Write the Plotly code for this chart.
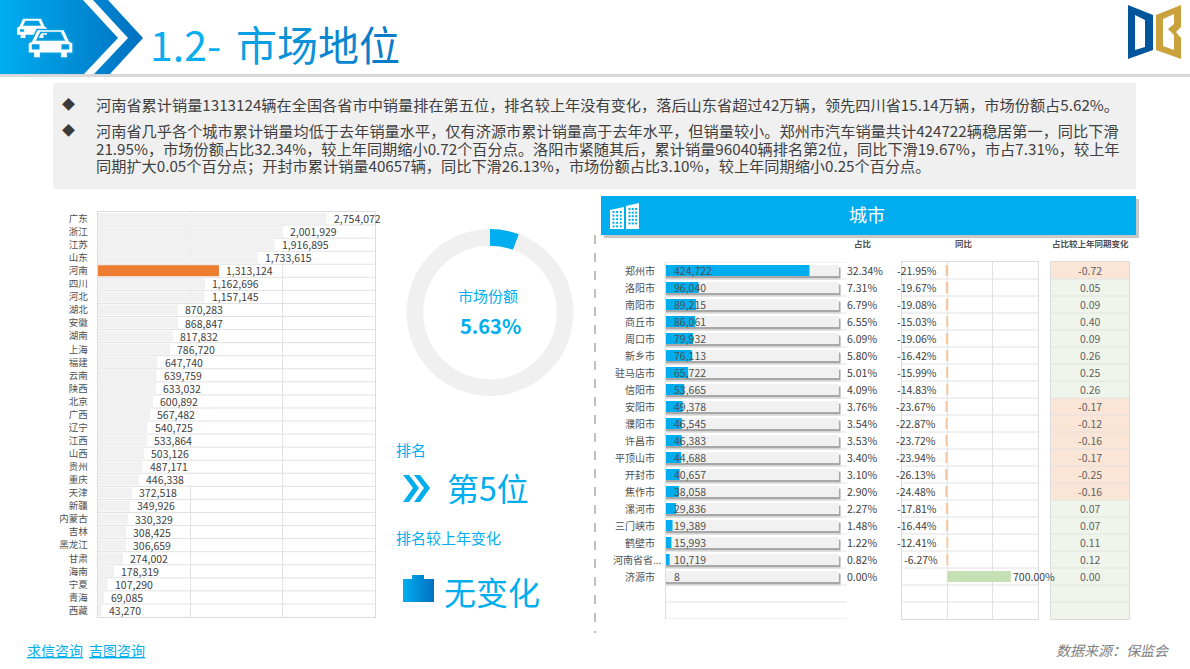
import plotly.graph_objects as go

# ---------- data ----------
provinces = ['广东', '浙江', '江苏', '山东', '河南', '四川', '河北', '湖北', '安徽', '湖南', '上海',
             '福建', '云南', '陕西', '北京', '广西', '辽宁', '江西', '山西', '贵州', '重庆', '天津',
             '新疆', '内蒙古', '吉林', '黑龙江', '甘肃', '海南', '宁夏', '青海', '西藏']
province_sales = [2754072, 2001929, 1916895, 1733615, 1313124, 1162696, 1157145, 870283, 868847, 817832, 786720,
                  647740, 639759, 633032, 600892, 567482, 540725, 533864, 503126, 487171, 446338, 372518,
                  349926, 330329, 308425, 306659, 274002, 178319, 107290, 69085, 43270]

cities = ['郑州市', '洛阳市', '南阳市', '商丘市', '周口市', '新乡市', '驻马店市', '信阳市', '安阳市', '濮阳市',
          '许昌市', '平顶山市', '开封市', '焦作市', '漯河市', '三门峡市', '鹤壁市', '河南省省...', '济源市']
city_sales = [424722, 96040, 89215, 86061, 79932, 76113, 65722, 53665, 49378, 46545,
              46383, 44688, 40657, 38058, 29836, 19389, 15993, 10719, 8]
city_share = [32.34, 7.31, 6.79, 6.55, 6.09, 5.80, 5.01, 4.09, 3.76, 3.54,
              3.53, 3.40, 3.10, 2.90, 2.27, 1.48, 1.22, 0.82, 0.00]
city_yoy = [-21.95, -19.67, -19.08, -15.03, -19.06, -16.42, -15.99, -14.83, -23.67, -22.87,
            -23.72, -23.94, -26.13, -24.48, -17.81, -16.44, -12.41, -6.27, 700.00]
share_change = [-0.72, 0.05, 0.09, 0.40, 0.09, 0.26, 0.25, 0.26, -0.17, -0.12,
                -0.16, -0.17, -0.25, -0.16, 0.07, 0.07, 0.11, 0.12, 0.00]
city_rows = 21  # the table keeps two empty rows at the bottom
market_share = [5.63, 94.37]

summary_lines = [
    '河南省累计销量1313124辆在全国各省市中销量排在第五位，排名较上年没有变化，落后山东省超过42万辆，领先四川省15.14万辆，市场份额占5.62%。',
    '河南省几乎各个城市累计销量均低于去年销量水平，仅有济源市累计销量高于去年水平，但销量较小。郑州市汽车销量共计424722辆稳居第一，同比下滑',
    '21.95%，市场份额占比32.34%，较上年同期缩小0.72个百分点。洛阳市紧随其后，累计销量96040辆排名第2位，同比下滑19.67%，市占7.31%，较上年',
    '同期扩大0.05个百分点；开封市累计销量40657辆，同比下滑26.13%，市场份额占比3.10%，较上年同期缩小0.25个百分点。',
]

FONT = 'Noto Sans CJK SC'
BLUE = '#00aeef'
TEXT = '#505050'
GRID = '#e2e2e2'
W, H = 1190, 669


def fx(px):
    return px / W


def fy(px):
    return 1 - px / H


annotations = []
shapes = []


def page_text(x, y, text, size, color=TEXT, anchor='left', **font):
    # annotation boxes sit a little right of and below the asked for spot
    if anchor == 'left':
        x -= 1.5
    annotations.append(dict(xref='paper', yref='paper', x=fx(x), y=fy(y - 1.5), text=text, showarrow=False,
                            xanchor=anchor, yanchor='middle', borderpad=0,
                            font=dict(family=FONT, size=size, color=color, **font)))


def path_of(*polys):
    d = ''
    for pts in polys:
        d += 'M' + ' L'.join('%s,%s' % p for p in pts) + ' Z '
    return d


def deco(*polys, fill='white', line=None, lw=0):
    # drawn on the full page axes so the numbers are plain pixels
    shapes.append(dict(type='path', xref='x5', yref='y5', path=path_of(*polys), fillcolor=fill, layer='above',
                       line=dict(color=line or fill, width=lw)))


def rect(x0, y0, x1, y1, fill, layer='below'):
    shapes.append(dict(type='rect', xref='x5', yref='y5', x0=x0, y0=y0, x1=x1, y1=y1, fillcolor=fill,
                       line=dict(width=0), layer=layer))


def car(x, y, w, h, line):
    unit = [(.08, .45), (.2, .08), (.8, .08), (.92, .45), (1, .52), (1, .85), (.88, .85), (.88, 1), (.72, 1), (.72, .85),
            (.28, .85), (.28, 1), (.12, 1), (.12, .85), (0, .85), (0, .52)]
    window = [(.2, .42), (.28, .18), (.72, .18), (.8, .42)]
    lamp1 = [(.1, .58), (.24, .58), (.24, .7), (.1, .7)]
    lamp2 = [(.76, .58), (.9, .58), (.9, .7), (.76, .7)]
    polys = [[(x + a * w, y + b * h) for a, b in p] for p in (unit, window, lamp1, lamp2)]
    deco(*polys, fill='white', line=line, lw=1.5 if line else 0)


fig = go.Figure()

# ---------- page decoration ----------
fig.add_trace(go.Scatter(x=[0, 83, 118, 84, 0, 0, None, 93, 108, 143, 110, 94, 128, 93],
                         y=[0, 0, 38, 74, 74, 0, None, 0, 0, 38, 74, 74, 38, 0],
                         xaxis='x5', yaxis='y5', mode='none', fill='toself', hoverinfo='skip', showlegend=False,
                         fillgradient=dict(type='horizontal', colorscale=[[0, '#00aeef'], [1, '#0070c0']])))
fig.add_trace(go.Scatter(x=[403, 412, 412, 424, 424, 434, 434, 403, 403],
                         y=[579, 579, 575, 575, 579, 579, 602, 602, 579],
                         xaxis='x5', yaxis='y5', mode='none', fill='toself', hoverinfo='skip', showlegend=False,
                         fillgradient=dict(type='horizontal', colorscale=[[0, '#00aeef'], [1, '#0070c0']])))
rect(0, 74, W, 77, '#d9d9d9')
rect(53, 83, 1136, 189, '#f0f0f0')
rect(604, 199, 1139, 238, '#c8c8c8')
rect(601, 196, 1136, 235, BLUE)
car(17, 17, 30, 21, None)
car(28, 27, 45, 31, '#0aa0e4')

# logo
deco([(1128, 5), (1153, 15), (1153, 50), (1128, 59)], [(1135, 15), (1145, 20), (1145, 47), (1135, 50)], fill='#00559b')
deco([(1156, 15), (1181, 5), (1181, 27), (1176, 32), (1181, 38), (1181, 59), (1156, 50)],
     [(1163, 19), (1174, 14), (1174, 24), (1168, 29), (1174, 35), (1174, 50), (1163, 46)], fill='#c9a23d')

# building icon on the header
deco([(610, 210), (624, 207), (624, 229), (610, 229)], fill='white')
deco([(626, 206), (639, 203), (639, 229), (626, 229)], fill='white')
for col in range(3):
    for row in range(5):
        rect(612.5 + col * 3.6, 211 + row * 3.6, 614.5 + col * 3.6, 213 + row * 3.6, BLUE, layer='above')
        rect(628.5 + col * 3.3, 208 + row * 3.6, 630.5 + col * 3.3, 210 + row * 3.6, BLUE, layer='above')

# double chevron next to the rank
for off in (0, 11):
    deco([(403 + off, 475), (409 + off, 475), (419 + off, 488), (409 + off, 502), (403 + off, 502), (413 + off, 488)],
         fill=BLUE)

shapes.append(dict(type='line', xref='x5', yref='y5', x0=595, x1=595, y0=235, y1=633, layer='below',
                   line=dict(color='#808080', width=1, dash='dash')))

page_text(150, 44, '<span style="color:#08aeee">1.2-</span>', 41)
page_text(236, 44, '<span style="color:#0a9fe2">市</span><span style="color:#0a92d8">场</span>'
                   '<span style="color:#0a86d0">地</span><span style="color:#0a7cc8">位</span>', 41)
for y, line in zip([105, 131, 149, 167], summary_lines):
    page_text(96, y, line, 15.2, color='#404040')
page_text(62, 105, '◆', 13, color='#3a3a3a')
page_text(62, 131, '◆', 13, color='#3a3a3a')
page_text(867, 216, '城市', 18, color='white', anchor='center')
page_text(863, 245, '<b>占比</b>', 8.5, anchor='center')
page_text(964, 245, '<b>同比</b>', 8.5, anchor='center')
page_text(1090, 245, '<b>占比较上年同期变化</b>', 8.5, anchor='center')
page_text(488, 297, '市场份额', 15, color=BLUE, anchor='center')
page_text(490, 327, '<b>5.63%</b>', 20, color=BLUE, anchor='center')
page_text(396, 451, '排名', 15, color=BLUE)
page_text(447, 488, '第5位', 32, color=BLUE)
page_text(396, 539, '排名较上年变化', 15, color=BLUE)
page_text(444, 592, '无变化', 32, color=BLUE)
page_text(27, 651, '求信咨询', 14, color=BLUE, lineposition='under')
page_text(89, 651, '吉图咨询', 14, color=BLUE, lineposition='under')
page_text(1056, 651, '数据来源：保监会', 14, color='#7f7f7f', style='italic')

# ---------- province bars ----------
prov_y = list(range(len(provinces)))
# the first label does not fit at the bar end and is pulled back over the bar
label_start = list(province_sales)
label_start[0] = 2480000
fig.add_trace(go.Bar(y=prov_y, x=province_sales, orientation='h', width=0.84, hoverinfo='skip', showlegend=False,
                     marker=dict(color=['#ed7d31' if p == '河南' else '#f1f1f1' for p in provinces], line=dict(width=0))))
fig.add_trace(go.Bar(y=prov_y, x=[570000] * len(provinces), base=label_start, orientation='h', width=0.84,
                     hoverinfo='skip', showlegend=False, marker=dict(color='white', line=dict(width=0))))
for i, start in enumerate(label_start):
    annotations.append(dict(xref='x', yref='y', x=start, y=i, text=format(province_sales[i], ','), showarrow=False,
                            xanchor='left', yanchor='middle', xshift=5,
                            font=dict(family=FONT, size=10.5, color='#404040')))
for i in range(len(provinces) - 1):
    shapes.append(dict(type='line', xref='x domain', yref='y', x0=0, x1=1, y0=i + .5, y1=i + .5,
                       line=dict(color=GRID, width=1), layer='above'))

# ---------- city bars ----------
city_y = list(range(len(cities)))
track = 512000
for offset, color, extra in [(-0.325 + 0.24, '#e4e4e4', 5000), (-0.325 + 0.15, '#a8a8a8', 4500), (-0.325, '#f1f1f1', 0)]:
    fig.add_trace(go.Bar(y=city_y, x=[track + extra] * len(cities), orientation='h', width=0.65, offset=offset,
                         xaxis='x2', yaxis='y2', hoverinfo='skip', showlegend=False,
                         marker=dict(color=color, line=dict(width=0))))
fig.add_trace(go.Bar(y=city_y, x=city_sales, orientation='h', width=0.65, offset=-0.325, xaxis='x2', yaxis='y2',
                     hoverinfo='skip', showlegend=False, marker=dict(color=BLUE, line=dict(width=0))))
for i, v in enumerate(city_sales):
    # the cut off name runs further right than the others, as in the source
    annotations.append(dict(xref='x2', yref='y2', x=0, y=i, text=cities[i], showarrow=False, xanchor='right',
                            yanchor='middle', xshift=-2 if cities[i].endswith('...') else -9,
                            font=dict(family=FONT, size=10, color='#505050')))
    annotations.append(dict(xref='x2', yref='y2', x=0, y=i, text=format(v, ','), showarrow=False, xanchor='left',
                            yanchor='middle', xshift=6, font=dict(family=FONT, size=10.5, color='#505050')))
    annotations.append(dict(xref='paper', yref='y2', x=fx(844.5), y=i, text='%.2f%%' % city_share[i], showarrow=False,
                            xanchor='left', yanchor='middle', font=dict(family=FONT, size=10.5, color='#404040')))

# ---------- year on year bars ----------
fig.add_trace(go.Bar(y=city_y, x=city_yoy, orientation='h', width=0.65, xaxis='x3', yaxis='y3', hoverinfo='skip',
                     showlegend=False,
                     marker=dict(color=['#c5e0b4' if v > 0 else '#f6c9a6' for v in city_yoy], line=dict(width=0))))
for i, v in enumerate(city_yoy):
    annotations.append(dict(xref='x3', yref='y3', x=v, y=i, text='%.2f%%' % v, showarrow=False,
                            xanchor='left' if v > 0 else 'right', xshift=0 if v > 0 else -7, yanchor='middle',
                            font=dict(family=FONT, size=10.5, color='#404040')))

# ---------- share change cells ----------
change_colors = ['#fbe5d6' if v < 0 else '#f0f5eb' for v in share_change] + ['#f0f5eb'] * (city_rows - len(share_change))
fig.add_trace(go.Bar(y=list(range(city_rows)), x=[1] * city_rows, orientation='h', width=1, xaxis='x4', yaxis='y4',
                     hoverinfo='skip', showlegend=False, marker=dict(color=change_colors, line=dict(width=0))))
for i, v in enumerate(share_change):
    annotations.append(dict(xref='x4', yref='y4', x=0.5, y=i, text='%.2f' % v, showarrow=False, yanchor='middle',
                            font=dict(family=FONT, size=10.5, color='#606060')))

for i in range(-1, city_rows):
    if -1 < i < city_rows - 1:
        for ax, y_ax in (('x3', 'y3'), ('x4', 'y4')):
            shapes.append(dict(type='line', xref=ax + ' domain', yref=y_ax, x0=0, x1=1, y0=i + .5, y1=i + .5,
                               line=dict(color=GRID, width=1), layer='above'))
    shapes.append(dict(type='line', xref='x2 domain', yref='y2', x0=0, x1=1, y0=i + .5, y1=i + .5,
                       line=dict(color=GRID, width=1), layer='above'))

# ---------- donut ----------
fig.add_trace(go.Pie(values=market_share, hole=0.8, sort=False, direction='clockwise', rotation=0,
                     marker=dict(colors=[BLUE, '#f0f0f0'], line=dict(width=0)), textinfo='none', hoverinfo='skip',
                     showlegend=False, domain=dict(x=[fx(406), fx(574)], y=[fy(396), fy(229)])))

frame = dict(showline=True, linecolor='#dcdcdc', linewidth=1, mirror=True, zeroline=False)
fig.update_layout(
    width=W, height=H, margin=dict(l=0, r=0, t=0, b=0), paper_bgcolor='white', plot_bgcolor='rgba(0,0,0,0)',
    barmode='overlay', font=dict(family=FONT, color=TEXT), annotations=annotations, shapes=shapes,
    xaxis=dict(domain=[fx(97.7), fx(374.7)], range=[0, 3000000], tick0=0, dtick=1000000, showticklabels=False,
               showgrid=True, gridcolor=GRID, gridwidth=1, ticks='', **frame),
    yaxis=dict(domain=[fy(617), fy(212)], range=[len(provinces) - .5, -.5], tickvals=prov_y, ticktext=provinces,
               ticks='', showgrid=False, ticklabelstandoff=7, tickfont=dict(size=9.5, color='#505050'), **frame),
    xaxis2=dict(domain=[fx(666), fx(846.7)], range=[0, 535000], showticklabels=False, showgrid=False, ticks='',
                showline=False, zeroline=False),
    yaxis2=dict(domain=[fy(619), fy(262)], range=[city_rows - .5, -.5], anchor='x2', showticklabels=False,
                ticks='', showgrid=False, showline=True, linecolor='#dcdcdc', zeroline=False),
    xaxis3=dict(domain=[fx(902.3), fx(1038)], range=[-500, 1000], dtick=500, tick0=0, anchor='y3', showticklabels=False,
                showgrid=True, gridcolor=GRID, ticks='', **frame),
    yaxis3=dict(domain=[fy(619), fy(262)], range=[city_rows - .5, -.5], anchor='x3', showticklabels=False,
                showgrid=False, ticks='', **frame),
    xaxis4=dict(domain=[fx(1051), fx(1129.3)], range=[0, 1], anchor='y4', showticklabels=False, showgrid=False,
                ticks='', **frame),
    yaxis4=dict(domain=[fy(619), fy(262)], range=[city_rows - .5, -.5], anchor='x4', showticklabels=False,
                showgrid=False, ticks='', **frame),
    xaxis5=dict(domain=[0, 1], range=[0, W], anchor='y5', visible=False, fixedrange=True),
    yaxis5=dict(domain=[0, 1], range=[H, 0], anchor='x5', visible=False, fixedrange=True),
)

# the page margin would push the fixed size figure off the window
fig.write_html("out.html", config=dict(displayModeBar=False), post_script="document.body.style.margin='0'")
